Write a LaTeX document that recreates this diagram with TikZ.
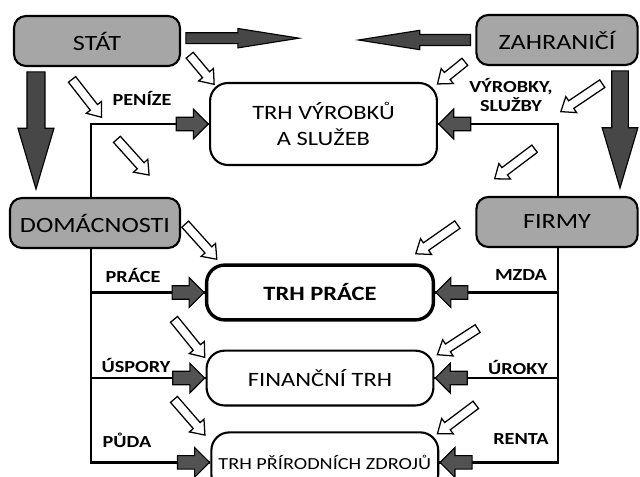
\documentclass[tikz,border=0pt]{standalone}
\usepackage{fontspec}
\setmainfont{Carlito}[FakeStretch=1.2]
\usetikzlibrary{shapes.arrows,positioning}

\tikzset{
  hub/.style={draw, line width=1.5pt, rounded corners=0.3cm, fill=black!35,
    minimum height=1.25cm, font=\fontsize{15.5}{17}\selectfont},
  market/.style={draw, line width=1.5pt, rounded corners=0.45cm, fill=white,
    minimum width=5.67cm, minimum height=1.37cm, align=center,
    font=\fontsize{14.5}{18}\selectfont},
  wire/.style={line width=1.8pt},
  lbl/.style={font=\bfseries\fontsize{12}{14}\selectfont, inner sep=1pt},
  pusharrow/.style={single arrow, draw, line width=0.8pt, fill=black!68,
    minimum height=0.8cm, inner xsep=0pt, inner ysep=4.4pt,
    single arrow head extend=5.8pt},
  bigflow/.style={single arrow, draw, line width=0.8pt, fill=black!72,
    inner xsep=0pt},
  hollow/.style={single arrow, draw, line width=0.9pt, fill=white,
    inner xsep=0pt, inner ysep=2.8pt, single arrow head extend=3.6pt,
    single arrow tip angle=75}
}

\begin{document}
\begin{tikzpicture}[x=0.025cm, y=-0.025cm]
\useasboundingbox (0,0) rectangle (640,477);

% sectors
\node[hub, minimum width=4.15cm] (stat) at (97,41) {STÁT};
\node[hub, minimum width=4.03cm] (zahr) at (557,40) {ZAHRANIČÍ};
\node[hub, minimum width=4.25cm] (dom) at (95,223) {DOMÁCNOSTI};
\node[hub, minimum width=4.03cm] (firmy) at (557,222) {FIRMY};

% markets
\node[market, minimum height=2.05cm] (trhv) at (323.5,124) {TRH VÝROBKŮ\\A SLUŽEB};
\node[market, line width=2.4pt] (trhp) at (320,292.5) {\textbf{TRH PRÁCE}};
\node[market, below=0.7cm of trhp] (fin) {FINANČNÍ TRH};
\node[market, below=0.62cm of fin, xshift=0.12cm, minimum height=1.5cm,
  font=\fontsize{12}{14}\selectfont] (prir) {TRH PŘÍRODNÍCH ZDROJŮ};

% spines
\coordinate (sl) at (91,0);
\coordinate (sr) at (558,0);
\draw[wire] (dom.north -| sl) |- (trhv.west);
\draw[wire] (dom.south -| sl) |- (prir.west);
\draw[wire] (sl |- trhp.west) -- (trhp.west);
\draw[wire] (sl |- fin.west) -- (fin.west);
\draw[wire] (firmy.north -| sr) |- (trhv.east);
\draw[wire] (firmy.south -| sr) |- (prir.east);
\draw[wire] (sr |- trhp.east) -- (trhp.east);
\draw[wire] (sr |- fin.east) -- (fin.east);

% arrows into the markets
\node[pusharrow, anchor=tip] (pv) at (trhv.west) {};
\node[pusharrow, anchor=tip] (pp) at (trhp.west) {};
\node[pusharrow, anchor=tip] (pf) at (fin.west) {};
\node[pusharrow, anchor=tip] (pz) at (prir.west) {};
\node[pusharrow, anchor=tip, rotate=180] (mv) at (trhv.east) {};
\node[pusharrow, anchor=tip, rotate=180] (mp) at (trhp.east) {};
\node[pusharrow, anchor=tip, rotate=180] (mf) at (fin.east) {};
\node[pusharrow, anchor=tip, rotate=180] (mz) at (prir.east) {};

% transfers
\node[bigflow, anchor=tail, minimum height=2.83cm, inner ysep=3.5pt,
  single arrow head extend=3pt, single arrow tip angle=18]
  (sout) at ([shift={(3pt,2pt)}]stat.east) {};
\node[bigflow, anchor=tail, rotate=180, minimum height=2.8cm, inner ysep=3.5pt,
  single arrow head extend=3pt, single arrow tip angle=18]
  (zout) at ([shift={(-3pt,0pt)}]zahr.west) {};
\node[bigflow, anchor=tail, rotate=-90, minimum height=2.93cm, inner ysep=6pt,
  single arrow head extend=6.4pt, single arrow tip angle=33]
  (sdown) at ([shift={(-1.525cm,-3pt)}]stat.south) {};
\node[bigflow, anchor=tail, rotate=-90, minimum height=2.93cm, inner ysep=5.5pt,
  single arrow head extend=6.8pt, single arrow tip angle=33]
  (zdown) at ([shift={(1.575cm,-3pt)}]zahr.south) {};

% money flows
\foreach \x/\y/\a/\l [count=\i] in {
    200/67.5/-50/0.95, 85/96/-52/1.2, 131/155/-48/1.2, 199/239.5/-48/1.18,
    187.5/336/-51/1.22, 187.5/415/-49/1.18,
    453.5/71/-141/0.88, 584/96/-146/1.25, 517/162/-143/1.25,
    439/237.5/-145/1.27, 460/340/-147/1.2, 459/417.5/-143/1.2}
  \node[hollow, rotate=\a, minimum height=\l cm] (h\i) at (\x,\y) {};

% labels
\node[lbl] (penize) at (142,98) {PENÍZE};
\node[lbl, align=center] (vyrobky) at (511,95) {VÝROBKY,\\SLUŽBY};
\node[lbl] (prace) at (133,275) {PRÁCE};
\node[lbl] (uspory) at (136,365) {ÚSPORY};
\node[lbl] (puda) at (127,440) {PŮDA};
\node[lbl] (mzda) at (521,275) {MZDA};
\node[lbl] (uroky) at (518,367) {ÚROKY};
\node[lbl] (renta) at (521,439) {RENTA};
\end{tikzpicture}
\end{document}
